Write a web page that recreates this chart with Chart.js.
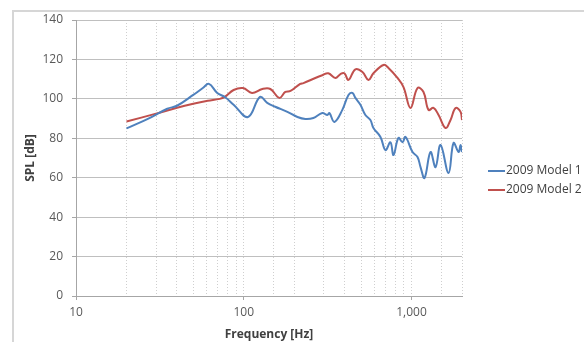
<!DOCTYPE html>
<html>
<head>
<meta charset="utf-8">
<script src="https://cdn.jsdelivr.net/npm/chart.js@4.4.1/dist/chart.umd.min.js"></script>
<style>
  html, body { margin: 0; padding: 0; background: #fff; }
  #wrap { position: relative; width: 584px; height: 342px; overflow: hidden; }
  #frame {
    position: absolute; left: 12px; top: 10px; width: 600px; height: 360px;
    border-left: 2px solid #d6d6d6; border-top: 2px solid #d6d6d6;
  }
  .legend {
    position: absolute; left: 488px; font: 12px "Open Sans", sans-serif; color: #404040;
    white-space: nowrap; line-height: 16px;
  }
  .legend i { display: inline-block; width: 17px; height: 2px; vertical-align: middle; margin-right: 1px; }
</style>
</head>
<body>
<div id="wrap">
  <div id="frame"></div>
  <canvas id="chart" width="584" height="342"></canvas>
  <div class="legend" style="top:162px"><i style="background:#4f81bd"></i>2009 Model 1</div>
  <div class="legend" style="top:181px"><i style="background:#c0504d"></i>2009 Model 2</div>
</div>
<script>
/* ---------- data ---------- */
const freqModel1 = [20, 27, 35, 40, 50, 57, 62, 69.5, 77.5, 87, 106, 125, 138, 154, 182, 209, 233, 260, 294, 315, 324, 347, 387, 421, 444, 463, 496, 531, 569, 593, 653, 700, 749, 781, 836, 884, 921, 1014, 1086, 1132, 1196, 1298, 1391, 1490, 1663, 1781, 1908, 1961, 2000];
const splModel1  = [85, 90, 95, 96.5, 102, 105.5, 107.6, 103, 100.8, 97, 90.8, 101, 98, 96, 93.4, 90.8, 89.8, 90.3, 92.8, 91.8, 92.8, 88.3, 94.4, 102, 103, 100.5, 97, 91.8, 89.3, 85.2, 80.7, 74, 78, 71.5, 80.2, 78, 80.7, 73, 70.5, 65.4, 59.9, 73, 65.4, 76.6, 62.4, 77.6, 73, 76.6, 73];

const freqModel2 = [20, 30, 40, 50, 61, 72, 77, 87, 99, 112, 129, 144, 163, 177, 190, 217, 227, 267, 294, 319, 352, 377, 398, 421, 463, 510, 554, 593, 681, 729, 825, 896, 986, 1086, 1179, 1263, 1353, 1450, 1596, 1709, 1831, 1961, 2000];
const splModel2  = [88.5, 92.5, 95.5, 97.5, 99, 100, 101, 104.5, 105.5, 103, 105, 105, 100.5, 103.5, 104, 107.6, 108, 110.6, 112, 113, 110.6, 112.6, 113, 109.6, 115, 113.6, 109.6, 113, 117.2, 115.7, 110.6, 106, 95.4, 105.5, 103.5, 94.4, 95.4, 91.8, 85.2, 89.3, 95.4, 93.4, 89.3];

const xMajorTicks = [10, 100, 1000];
const yMin = 0, yMax = 140, yStep = 20;

const toPoints = (xs, ys) => xs.map((x, i) => ({ x: x, y: ys[i] }));
const isMajor = v => xMajorTicks.includes(v);

/* ---------- chart ---------- */
Chart.defaults.font.family = '"Open Sans", sans-serif';
Chart.defaults.font.size = 12;
Chart.defaults.color = '#595959';

new Chart(document.getElementById('chart'), {
  type: 'line',
  data: {
    datasets: [
      {
        label: '2009 Model 1',
        data: toPoints(freqModel1, splModel1),
        borderColor: '#4f81bd',
        borderWidth: 2,
        pointRadius: 0,
        tension: 0.4,
        fill: false
      },
      {
        label: '2009 Model 2',
        data: toPoints(freqModel2, splModel2),
        borderColor: '#c0504d',
        borderWidth: 2,
        pointRadius: 0,
        tension: 0.4,
        fill: false
      }
    ]
  },
  options: {
    responsive: false,
    animation: false,
    layout: { padding: { left: 0, top: 20, right: 122, bottom: 0 } },
    plugins: { legend: { display: false }, tooltip: { enabled: false } },
    scales: {
      x: {
        type: 'logarithmic',
        min: 10,
        max: 2000,
        afterFit: s => { s.height = 46; },
        ticks: {
          autoSkip: false,
          maxRotation: 0,
          padding: 5,
          callback: v => isMajor(v) ? v.toLocaleString('en-US') : ''
        },
        grid: {
          color: '#cfcfcf',
          lineWidth: 1,
          tickLength: 4,
          tickColor: c => isMajor(c.tick && c.tick.value) ? '#a6a6a6' : 'rgba(0,0,0,0)'
        },
        border: { color: '#a6a6a6', width: 1, dash: [1, 2] },
        title: {
          display: true,
          text: 'Frequency [Hz]',
          color: '#404040',
          font: { size: 12, weight: 'bold' },
          padding: { top: 0, bottom: 0 }
        }
      },
      y: {
        min: yMin,
        max: yMax,
        afterFit: s => { s.width = 76; },
        ticks: { stepSize: yStep, padding: 9 },
        grid: { color: '#bfbfbf', lineWidth: 1, tickLength: 4, tickColor: '#a6a6a6' },
        border: { color: '#a6a6a6', width: 1 },
        title: {
          display: true,
          text: 'SPL [dB]',
          color: '#404040',
          font: { size: 12, weight: 'bold' },
          padding: { top: 23, bottom: 0 }
        }
      }
    }
  }
});
</script>
</body>
</html>
